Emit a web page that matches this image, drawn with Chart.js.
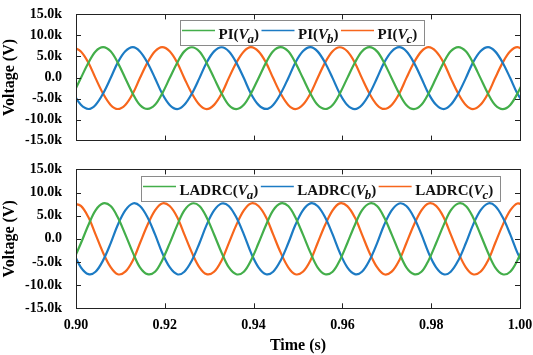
<!DOCTYPE html>
<html>
<head>
<meta charset="utf-8">
<script src="https://cdn.jsdelivr.net/npm/chart.js@4.4.0/dist/chart.umd.min.js"></script>
<style>
  html, body { margin: 0; padding: 0; background: #fff; }
  #wrap { position: relative; width: 533px; height: 355px; }
  #topBox { position: absolute; left: 0; top: 0; width: 533px; height: 155px; }
  #bottomBox { position: absolute; left: 0; top: 155px; width: 533px; height: 200px; }
</style>
</head>
<body>
<div id="wrap">
  <div id="topBox"><canvas id="piChart"></canvas></div>
  <div id="bottomBox"><canvas id="ladrcChart"></canvas></div>
</div>
<script>
// ---- data (time in s, voltage in V) ----
const timeLabels = [
  0.8994, 0.9011, 0.9028, 0.9044, 0.9061, 0.9078, 0.9094, 0.9111, 0.9128, 0.9144, 0.9161, 0.9178,
  0.9194, 0.9211, 0.9228, 0.9244, 0.9261, 0.9278, 0.9294, 0.9311, 0.9328, 0.9344, 0.9361, 0.9378,
  0.9394, 0.9411, 0.9428, 0.9444, 0.9461, 0.9478, 0.9494, 0.9511, 0.9528, 0.9544, 0.9561, 0.9578,
  0.9594, 0.9611, 0.9628, 0.9644, 0.9661, 0.9678, 0.9694, 0.9711, 0.9728, 0.9744, 0.9761, 0.9778,
  0.9794, 0.9811, 0.9828, 0.9844, 0.9861, 0.9878, 0.9894, 0.9911, 0.9928, 0.9944, 0.9961, 0.9978,
  0.9994, 1.0011
];

// PI controller, top panel
const piVa = [
  -3800, -120, 3500, 6200, 7220, 6230, 3540, -160, -3850, -6520, -7480, -6500,
  -3830, -140, 3520, 6210, 7190, 6200, 3510, -150, -3810, -6530, -7520, -6490,
  -3820, -160, 3530, 6230, 7210, 6220, 3530, -140, -3830, -6500, -7490, -6520,
  -3840, -150, 3510, 6200, 7200, 6210, 3520, -170, -3820, -6510, -7510, -6500,
  -3810, -130, 3540, 6220, 7230, 6230, 3530, -150, -3840, -6520, -7500, -6510,
  -3830, -150
];
const piVb = [
  -3830, -6500, -7490, -6520, -3810, -140, 3530, 6220, 7210, 6200, 3520, -160,
  -3820, -6520, -7510, -6500, -3830, -150, 3510, 6210, 7190, 6220, 3540, -140,
  -3840, -6510, -7480, -6510, -3820, -160, 3520, 6230, 7220, 6210, 3510, -150,
  -3810, -6530, -7500, -6520, -3840, -130, 3530, 6200, 7200, 6230, 3530, -170,
  -3830, -6500, -7520, -6500, -3820, -150, 3540, 6220, 7210, 6210, 3520, -140,
  -3820, -6510
];
const piVc = [
  7180, 6200, 3520, -150, -3830, -6510, -7490, -6520, -3820, -140, 3530, 6220,
  7210, 6230, 3510, -160, -3810, -6500, -7510, -6510, -3840, -150, 3520, 6200,
  7220, 6210, 3530, -140, -3830, -6520, -7500, -6500, -3820, -160, 3540, 6230,
  7190, 6220, 3520, -150, -3820, -6510, -7480, -6520, -3830, -150, 3510, 6210,
  7210, 6200, 3540, -170, -3840, -6530, -7510, -6500, -3810, -140, 3530, 6220,
  7200, 6210
];

// LADRC controller, bottom panel
const ladrcVa = [
  -4680, -950, 2990, 6150, 7650, 7080, 4650, 970, -2970, -6150, -7630, -7110,
  -4650, -970, 2970, 6130, 7630, 7110, 4670, 950, -2990, -6130, -7650, -7090,
  -4670, -960, 2980, 6150, 7660, 7090, 4660, 960, -2980, -6140, -7640, -7100,
  -4660, -940, 2990, 6140, 7640, 7100, 4640, 970, -2960, -6150, -7620, -7110,
  -4650, -960, 2970, 6130, 7650, 7110, 4670, 950, -2990, -6140, -7650, -7090,
  -4670, -960
];
const ladrcVb = [
  -2970, -6150, -7630, -7110, -4650, -970, 2990, 6150, 7650, 7090, 4660, 950,
  -2990, -6130, -7650, -7090, -4670, -950, 2970, 6130, 7630, 7110, 4650, 970,
  -2980, -6140, -7640, -7100, -4660, -960, 2980, 6150, 7660, 7100, 4670, 960,
  -2960, -6150, -7620, -7110, -4640, -970, 2990, 6140, 7640, 7080, 4660, 950,
  -2990, -6140, -7650, -7090, -4670, -960, 2970, 6130, 7650, 7110, 4650, 960,
  -2980, -6140
];
const ladrcVc = [
  7630, 7110, 4650, 970, -2990, -6130, -7650, -7090, -4670, -950, 2990, 6150,
  7650, 7090, 4670, 950, -2970, -6150, -7630, -7110, -4650, -970, 2970, 6130,
  7640, 7100, 4660, 960, -2980, -6140, -7640, -7100, -4660, -960, 2980, 6140,
  7660, 7080, 4640, 970, -2990, -6130, -7660, -7090, -4650, -950, 2990, 6150,
  7640, 7110, 4670, 950, -2970, -6150, -7640, -7110, -4670, -960, 2970, 6130,
  7650, 7100
];

const phaseSubs = ['a', 'b', 'c'];
const phaseColors = ['#43ae4a', '#1c7bc4', '#f7661c'];
const serif = '"Liberation Serif", "Times New Roman", serif';

// **Frame with inward ticks on all four sides**
const frameTicks = {
  id: 'frameTicks',
  afterDatasetsDraw(chart) {
    const { ctx, chartArea: a, scales } = chart;
    const len = 5;
    ctx.save();
    ctx.strokeStyle = '#222';
    ctx.lineWidth = 1;
    ctx.beginPath();
    scales.x.ticks.forEach(t => {
      const px = Math.round(scales.x.getPixelForValue(t.value)) + 0.5;
      if (px <= a.left + 1 || px >= a.right - 1) return;
      ctx.moveTo(px, a.top); ctx.lineTo(px, a.top + len);
      ctx.moveTo(px, a.bottom); ctx.lineTo(px, a.bottom - len);
    });
    scales.y.ticks.forEach(t => {
      const py = Math.round(scales.y.getPixelForValue(t.value)) + 0.5;
      if (py <= a.top + 1 || py >= a.bottom - 1) return;
      ctx.moveTo(a.left, py); ctx.lineTo(a.left + len, py);
      ctx.moveTo(a.right, py); ctx.lineTo(a.right - len, py);
    });
    ctx.stroke();
    ctx.strokeRect(Math.round(a.left) + 0.5, Math.round(a.top) + 0.5,
                   Math.round(a.right - a.left), Math.round(a.bottom - a.top));
    ctx.restore();
  }
};

// **Legend with italic V and subscript phase letter**
const phaseLegend = {
  id: 'phaseLegend',
  afterDatasetsDraw(chart, args, opts) {
    const { ctx, chartArea: a } = chart;
    const big = 'bold 15px ' + serif;
    const ital = 'italic bold 15px ' + serif;
    const small = 'italic bold 13px ' + serif;
    ctx.save();
    const items = chart.data.datasets.map((ds, i) => {
      ctx.font = big;
      const w1 = ctx.measureText(opts.prefix + '(').width;
      ctx.font = ital;
      const w2 = ctx.measureText('V').width;
      ctx.font = small;
      const w3 = ctx.measureText(phaseSubs[i]).width;
      ctx.font = big;
      const w4 = ctx.measureText(')').width;
      return { color: ds.borderColor, sub: phaseSubs[i], w1, w2, w3, w4 };
    });
    const x0 = a.left + opts.dx;
    const y0 = a.top + opts.dy;
    const h = 25;
    let total = 2;
    items.forEach(it => { total += 33 + 3.5 + it.w1 + it.w2 - 1 + it.w3 + it.w4 + 2.5; });
    total += 4.5;

    ctx.fillStyle = '#fff';
    ctx.fillRect(x0, y0, total, h);
    ctx.strokeStyle = '#8a8a8a';
    ctx.lineWidth = 1;
    ctx.strokeRect(Math.round(x0) + 0.5, Math.round(y0) + 0.5, Math.round(total), h);

    let x = x0 + 2;
    const lineY = y0 + 10.5;
    const base = y0 + 18.5;
    ctx.textBaseline = 'alphabetic';
    ctx.textAlign = 'left';
    items.forEach(it => {
      ctx.strokeStyle = it.color;
      ctx.lineWidth = 1.5;
      ctx.beginPath();
      ctx.moveTo(x, lineY);
      ctx.lineTo(x + 33, lineY);
      ctx.stroke();
      x += 33 + 3.5;
      ctx.fillStyle = '#111';
      ctx.font = big;
      ctx.fillText(opts.prefix + '(', x, base);
      x += it.w1;
      ctx.font = ital;
      ctx.fillText('V', x, base);
      x += it.w2 - 1;
      ctx.font = small;
      ctx.fillText(it.sub, x, base + 4.5);
      x += it.w3;
      ctx.font = big;
      ctx.fillText(')', x, base);
      x += it.w4 + 2.5;
    });
    ctx.restore();
  }
};

function makeDatasets(series) {
  return series.map((vals, i) => ({
    label: 'V' + phaseSubs[i],
    data: timeLabels.map((t, k) => ({ x: t, y: vals[k] })),
    borderColor: phaseColors[i],
    borderWidth: 2.2,
    pointRadius: 0,
    tension: 0.35,
    fill: false
  }));
}

function voltageTick(v) {
  if (v === 0) return '0.0';
  return (v / 1000).toFixed(1) + 'k';
}

function makeOptions(showTime, padTop, xHeight, legendOpts) {
  return {
    responsive: true,
    maintainAspectRatio: false,
    animation: false,
    devicePixelRatio: 1,
    layout: { padding: { left: 0, right: 13, top: padTop, bottom: 0 } },
    plugins: {
      legend: { display: false },
      tooltip: { enabled: false },
      phaseLegend: legendOpts
    },
    scales: {
      x: {
        type: 'linear',
        min: 0.9,
        max: 1.0,
        grid: { display: false },
        border: { display: false },
        ticks: {
          display: showTime,
          stepSize: 0.02,
          padding: 1,
          color: '#000',
          font: { family: serif, size: 14, weight: 'bold' },
          callback: v => v.toFixed(2)
        },
        title: {
          display: showTime,
          text: 'Time (s)',
          color: '#000',
          padding: { top: 0, bottom: 0 },
          font: { family: serif, size: 16, weight: 'bold' }
        },
        afterFit: scale => {
          scale.height = xHeight;
          scale.paddingLeft = 0;
          scale.paddingRight = 0;
        }
      },
      y: {
        min: -15000,
        max: 15000,
        grid: { display: false },
        border: { display: false },
        ticks: {
          stepSize: 5000,
          padding: 6,
          color: '#000',
          font: { family: serif, size: 14, weight: 'bold' },
          callback: voltageTick
        },
        title: {
          display: true,
          text: 'Voltage (V)',
          color: '#000',
          padding: { top: 0, bottom: 0 },
          font: { family: serif, size: 16, weight: 'bold' }
        },
        afterFit: scale => { scale.width = 76; }
      }
    }
  };
}

document.addEventListener('DOMContentLoaded', function () {
  new Chart(document.getElementById('piChart').getContext('2d'), {
    type: 'line',
    data: { datasets: makeDatasets([piVa, piVb, piVc]) },
    options: makeOptions(false, 7, 8.3, { prefix: 'PI', dx: 104, dy: 5.7 }),
    plugins: [frameTicks, phaseLegend]
  });

  new Chart(document.getElementById('ladrcChart').getContext('2d'), {
    type: 'line',
    data: { datasets: makeDatasets([ladrcVa, ladrcVb, ladrcVc]) },
    options: makeOptions(true, 12.3, 46.7, { prefix: 'LADRC', dx: 65, dy: 6.7 }),
    plugins: [frameTicks, phaseLegend]
  });
});
</script>
</body>
</html>
